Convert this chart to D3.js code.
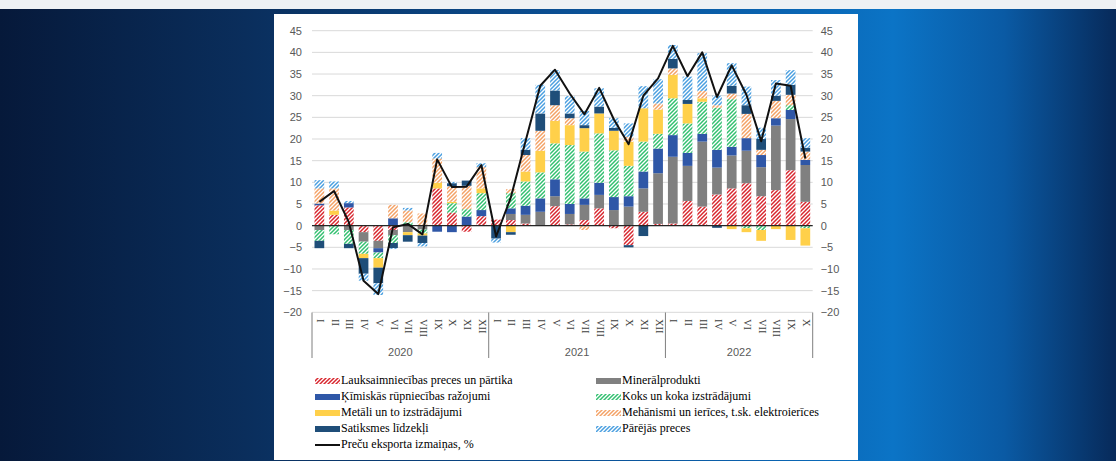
<!DOCTYPE html>
<html><head><meta charset="utf-8">
<script src="https://cdn.jsdelivr.net/npm/d3@7"></script>
<style>
html,body{margin:0;padding:0;width:1116px;height:461px;overflow:hidden;background:#0a2a55;}
svg{display:block;}
</style></head><body>
<svg id="c" width="1116" height="461"></svg>
<script>
// ---- data ----
const months = ["I","II","III","IV","V","VI","VII","VIII","IX","X","XI","XII",
                "I","II","III","IV","V","VI","VII","VIII","IX","X","XI","XII",
                "I","II","III","IV","V","VI","VII","VIII","IX","X"];
const years = ["2020","2021","2022"];
const yearMonthCounts = [12, 12, 10];
const yTicks = [-20,-15,-10,-5,0,5,10,15,20,25,30,35,40,45];

const lauksaimniecibas = [4.7,2.5,4.2,-1.5,-3.5,-1.0,0,-0.1,8.6,3.0,-1.4,2.2,
                          1.4,1.3,0.5,0,4.5,0.3,1.3,4.0,-0.6,-4.5,3.2,0.4,
                          0.5,5.7,4.4,7.2,8.6,9.8,6.8,8.2,12.8,5.5];
const mineralprodukti = [-1.0,0,-1.0,-2.2,-1.7,-1.2,-1.5,-0.8,0,0,0,0,
                         0,1.4,2.0,3.2,2.3,2.4,3.5,3.1,3.6,4.4,5.4,11.7,
                         15.4,8.1,15.0,6.2,7.6,7.5,6.7,14.9,11.8,8.5];
const kimiskas = [0.4,0,1.0,0,-1.0,1.7,0,0,-1.4,-1.5,2.1,1.4,
                  0,1.3,2.1,3.1,3.9,2.3,1.5,2.8,3.0,2.4,3.9,5.7,
                  5.0,3.0,1.8,4.1,2.0,2.9,2.8,1.7,2.1,1.2];
const koks = [-2.5,-2.0,-3.2,-2.8,-1.3,-1.8,0.8,-0.9,0,2.2,1.7,3.9,
              0,3.5,5.6,6.0,8.3,13.6,10.8,11.4,10.8,7.0,6.9,3.4,
              8.5,6.8,7.4,9.7,11.0,-0.6,-1.0,0,1.1,-0.6];
const metali = [0,1.0,0,-1.0,-2.2,0,-0.7,-0.5,1.3,0.3,0,1.1,
                0,-1.5,2.3,5.0,5.2,4.6,5.4,4.6,4.5,5.6,7.7,5.6,
                5.4,4.5,0.8,0,-0.8,-0.9,-2.5,-0.8,-3.3,-4.0];
const mehanismi = [3.5,5.1,0,0,0,3.1,2.7,2.8,5.6,3.6,5.4,4.9,
                   0,0.9,3.8,4.6,3.6,1.6,-1.0,0,0,1.1,0,1.4,
                   1.5,0,1.7,0.6,1.3,5.6,1.2,4.0,2.4,1.9];
const satiksmes = [-1.7,0,-1.0,-3.6,-3.6,-1.2,-1.5,-1.7,0,0.7,1.2,0,
                   -3.0,-0.6,1.2,4.0,3.4,1.1,0.7,1.6,0.7,-0.5,-2.4,0,
                   2.2,0.9,0,-0.5,1.8,2.0,2.5,1.2,2.3,0.9];
const parejas = [1.9,1.6,0.5,-1.6,-2.7,-0.2,0.6,-0.8,1.3,0.3,0,0.9,
                 -0.9,0,2.7,6.6,4.7,4.0,3.3,4.2,2.2,3.1,5.1,5.6,
                 3.2,5.4,8.7,2.2,5.2,4.3,2.6,3.6,3.4,2.2];
const eksportaIzmainas = [5.5,8.0,0.8,-12.7,-15.8,-0.4,0.4,-2.0,15.3,8.9,9.0,14.0,
                          -2.5,6.5,19.5,32.3,36.0,30.5,25.7,31.8,24.5,18.8,30.0,34.0,
                          41.5,34.5,40.0,29.7,37.0,30.2,19.5,32.8,32.3,15.5];

const seriesNames = ["Lauksaimniecības preces un pārtika","Minerālprodukti",
  "Ķīmiskās rūpniecības ražojumi","Koks un koka izstrādājumi","Metāli un to izstrādājumi",
  "Mehānismi un ierīces, t.sk. elektroierīces","Satiksmes līdzekļi","Pārējās preces"];
const lineName = "Preču eksporta izmaiņas, %";
const seriesValues = [lauksaimniecibas, mineralprodukti, kimiskas, koks, metali, mehanismi, satiksmes, parejas];

// ---- styling ----
const styles = [
  {hatch:true, color:"#d8262e"},
  {hatch:false, color:"#808080"},
  {hatch:false, color:"#2f57a7"},
  {hatch:true, color:"#32c070"},
  {hatch:false, color:"#ffd04a"},
  {hatch:true, color:"#f4a266"},
  {hatch:false, color:"#1f4e79"},
  {hatch:true, color:"#4a9fe0"}
];

const svg = d3.select("#c");
const W = 1116, H = 461;
const defs = svg.append("defs");

// background gradient
const bg = defs.append("linearGradient").attr("id","bg").attr("x1","0").attr("x2","1").attr("y1","0").attr("y2","0");
[["0%","#06193a"],["22%","#0a2e5c"],["50%","#0b4f93"],["72%","#0a66b4"],["80%","#0b74c6"],["90%","#0a5aa4"],["100%","#072a5a"]]
  .forEach(s=>bg.append("stop").attr("offset",s[0]).attr("stop-color",s[1]));
svg.append("rect").attr("width",W).attr("height",H).attr("fill","url(#bg)");
svg.append("rect").attr("width",W).attr("height",9).attr("fill","#eef1f4");
svg.append("rect").attr("x",274).attr("y",14).attr("width",584).attr("height",446).attr("fill","#ffffff");

styles.forEach((s,i)=>{
  if(!s.hatch) return;
  const p = defs.append("pattern").attr("id","p"+i).attr("patternUnits","userSpaceOnUse")
    .attr("width",4).attr("height",4);
  p.append("rect").attr("width",4).attr("height",4).attr("fill","#ffffff");
  p.append("path").attr("d","M-1,1 L1,-1 M0,4 L4,0 M3,5 L5,3")
    .attr("stroke",s.color).attr("stroke-width",1.5);
});
const fillOf = i => styles[i].hatch ? `url(#p${i})` : styles[i].color;

// ---- scales ----
const x0 = 312, x1 = 812.7;
const idx = d3.range(months.length);
const x = d3.scaleBand().domain(idx).range([x0,x1]).paddingInner(0.34).paddingOuter(0.17);
const y = d3.scaleLinear().domain([-20,45]).range([312.3,30.7]);

// gridlines
svg.append("g").selectAll("line").data(yTicks).join("line")
  .attr("x1",x0).attr("x2",x1).attr("y1",d=>y(d)).attr("y2",d=>y(d))
  .attr("stroke","#d9d9d9").attr("stroke-width",1);

// y axes
const tickFont = "'Liberation Sans', Arial, sans-serif";
const yl = svg.append("g").attr("transform",`translate(${x0},0)`)
  .call(d3.axisLeft(y).tickValues(yTicks).tickSize(0).tickPadding(10));
const yr = svg.append("g").attr("transform",`translate(${x1},0)`)
  .call(d3.axisRight(y).tickValues(yTicks).tickSize(0).tickPadding(8));
[yl,yr].forEach(g=>{
  g.select(".domain").remove();
  g.selectAll("text").attr("font-family",tickFont).attr("font-size",11).attr("fill","#595959");
});

// stacked bars
const table = idx.map(i=>{const o={i}; seriesValues.forEach((s,k)=>o["s"+k]=s[i]); return o;});
const stack = d3.stack().keys(seriesValues.map((_,k)=>"s"+k)).offset(d3.stackOffsetDiverging);
const layers = stack(table);
const gBars = svg.append("g");
layers.forEach((layer,k)=>{
  gBars.append("g").selectAll("rect").data(layer.filter(d=>d[1]!==d[0])).join("rect")
    .attr("x",d=>x(d.data.i)).attr("width",x.bandwidth())
    .attr("y",d=>y(Math.max(d[0],d[1]))).attr("height",d=>Math.abs(y(d[0])-y(d[1])))
    .attr("fill",fillOf(k));
});

// zero line
svg.append("line").attr("x1",x0).attr("x2",x1).attr("y1",y(0)).attr("y2",y(0))
  .attr("stroke","#262626").attr("stroke-width",1.2);

// total line
const line = d3.line().x((d,i)=>x(i)+x.bandwidth()/2).y(d=>y(d));
svg.append("path").datum(eksportaIzmainas).attr("d",line)
  .attr("fill","none").attr("stroke","#111").attr("stroke-width",2).attr("stroke-linejoin","round");

// category axis
const gx = svg.append("g");
gx.selectAll("text.m").data(idx).join("text").attr("class","m")
  .attr("transform",i=>`translate(${x(i)+x.bandwidth()/2},319) rotate(90)`)
  .attr("text-anchor","start").attr("dominant-baseline","middle")
  .attr("font-family","'Liberation Serif','Times New Roman',serif").attr("font-size",10.5)
  .attr("fill","#404040").text(i=>months[i]);
// group dividers and year labels
let start = 0;
const step = (x1-x0)/months.length;
const bounds = [0];
yearMonthCounts.forEach(c=>{start+=c; bounds.push(start);});
gx.selectAll("line.div").data(bounds).join("line").attr("class","div")
  .attr("x1",b=>x0+b*step).attr("x2",b=>x0+b*step).attr("y1",312.5).attr("y2",358)
  .attr("stroke","#7f7f7f").attr("stroke-width",1);
gx.selectAll("text.y").data(years).join("text").attr("class","y")
  .attr("x",(d,i)=>x0+(bounds[i]+bounds[i+1])/2*step).attr("y",356)
  .attr("text-anchor","middle").attr("font-family",tickFont).attr("font-size",11)
  .attr("fill","#595959").text(d=>d);

// legend
const legLeft = [0,2,4,6,"line"], legRight = [1,3,5,7];
const rowsY = [381,397,413,429,445];
const legFont = "'Liberation Serif','Times New Roman',serif";
function legendCol(items, sx, tx){
  items.forEach((k,r)=>{
    const yy = rowsY[r];
    if(k==="line"){
      svg.append("line").attr("x1",sx).attr("x2",sx+25).attr("y1",yy).attr("y2",yy)
        .attr("stroke","#111").attr("stroke-width",2);
    } else {
      svg.append("rect").attr("x",sx).attr("y",yy-3).attr("width",25).attr("height",6).attr("fill",fillOf(k));
    }
    svg.append("text").attr("x",tx).attr("y",yy).attr("dominant-baseline","middle")
      .attr("font-family",legFont).attr("font-size",12).attr("fill","#000")
      .text(k==="line"?lineName:seriesNames[k]);
  });
}
legendCol(legLeft, 315, 341);
legendCol(legRight, 596, 622);
</script></body></html>
